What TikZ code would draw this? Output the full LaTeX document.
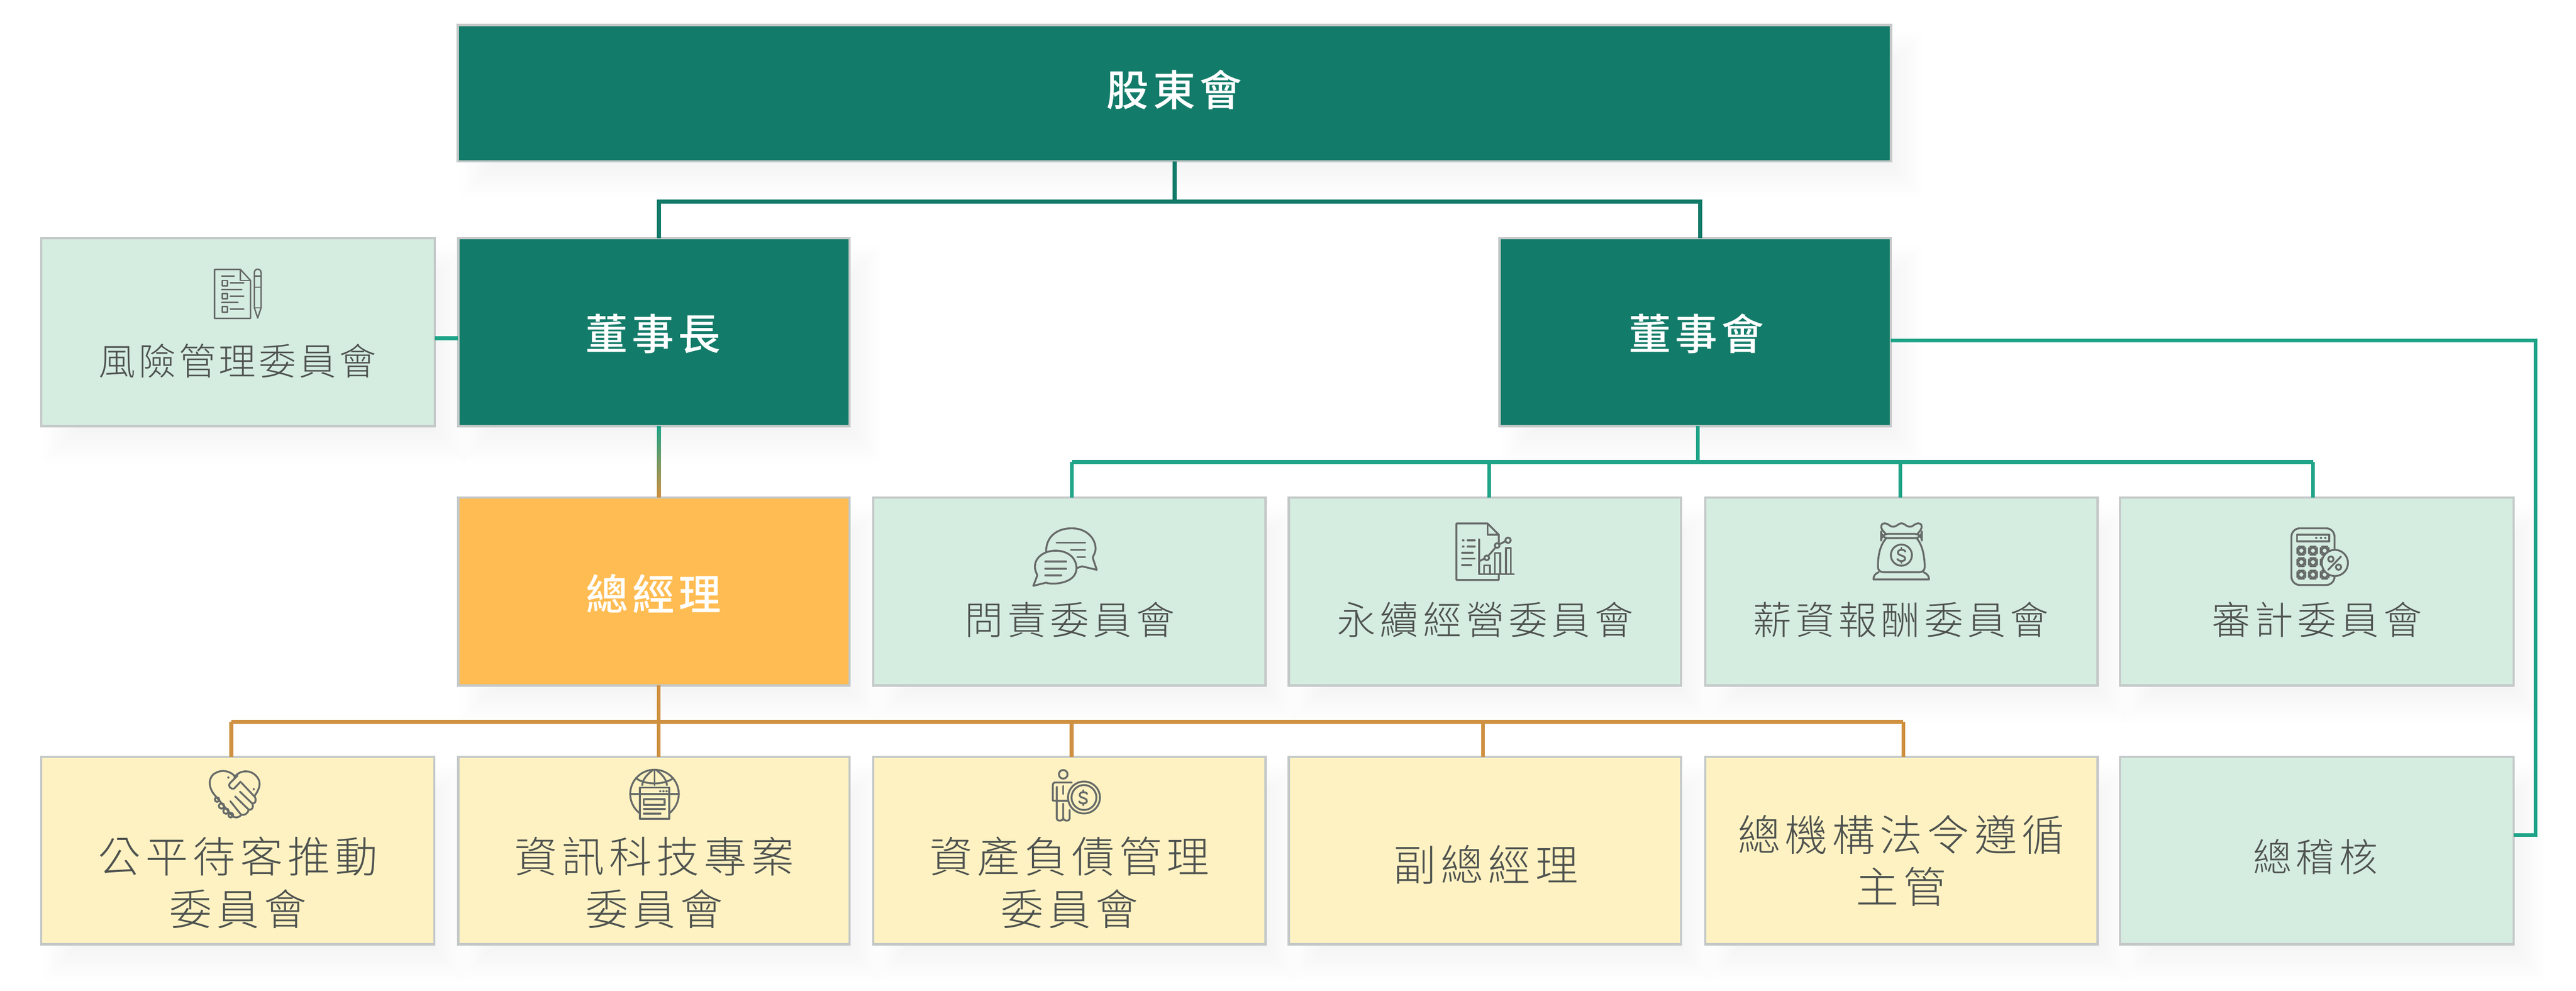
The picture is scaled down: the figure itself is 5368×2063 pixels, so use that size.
\documentclass[tikz,border=0pt]{standalone}
\usepackage{fontspec}
\usetikzlibrary{calc}
\newfontfamily\ftitle[LetterSpace=10]{Noto Sans CJK TC Medium}
\newfontfamily\fone[LetterSpace=11]{Noto Sans CJK TC Light}
\newfontfamily\ftwo[LetterSpace=11]{Noto Sans CJK TC Light}
\newfontfamily\frisk[LetterSpace=8]{Noto Sans CJK TC Light}
\definecolor{dgreen}{HTML}{137B69}
\definecolor{lgreen}{HTML}{D5ECE0}
\definecolor{lyellow}{HTML}{FFF2C2}
\definecolor{gmorange}{HTML}{FFBC52}
\definecolor{edgegray}{HTML}{C4C8C8}
\definecolor{teal}{HTML}{1FA488}
\definecolor{ochre}{HTML}{CF9040}
\definecolor{iconc}{HTML}{666A68}
\definecolor{textc}{HTML}{4E524F}
\tikzset{
  x=0.01cm,y=-0.01cm,
  boxbase/.style={draw=edgegray,line width=1.4pt,inner sep=0pt,outer sep=0pt},
  darkbox/.style={boxbase,fill=dgreen},
  lightbox/.style={boxbase,fill=lgreen},
  yellowbox/.style={boxbase,fill=lyellow},
  gmbox/.style={boxbase,fill=gmorange},
  titletext/.style={inner sep=0pt,text=white,font={\ftitle\fontsize{25.1}{25.1}\selectfont}},
  onetext/.style={inner sep=0pt,text=textc,font={\fone\fontsize{22.9}{22.9}\selectfont}},
  twotext/.style={inner sep=0pt,text=textc,align=center,font={\ftwo\fontsize{25.3}{31}\selectfont}},
  risktext/.style={inner sep=0pt,text=textc,font={\frisk\fontsize{22.0}{22.0}\selectfont}},
  topline/.style={draw=dgreen,line width=2.5pt},
  tealbus/.style={draw=teal,line width=2.5pt},
  tealdrop/.style={draw=teal,line width=2.2pt},
  ochrebus/.style={draw=ochre,line width=2.5pt},
  ochredrop/.style={draw=ochre,line width=2.2pt},
  icon/.style={draw=iconc,line width=1.1pt,line cap=round,line join=round},
  iconthin/.style={draw=iconc,line width=0.85pt,line cap=round,line join=round},
  zoomed/.style={x=0.003333cm,y=-0.003333cm},
}
\newcommand{\softbox}[4]{%
  \foreach \k in {0,...,13}{
    \fill[black,opacity=0.004] ({#1+35+60-\k*7},{#2+45+60-\k*7}) rectangle ({#3+35-60+\k*7},{#4+45-60+\k*7});
  }}
\newcommand{\sglyph}{%
  \draw[icon] (25,-22) .. controls (18,-38) and (-22,-38) .. (-22,-16) .. controls (-22,6) and (23,-1) .. (23,22) .. controls (23,42) and (-17,42) .. (-25,24);
  \draw[icon] (0,-46) -- (0,-36) (0,39) -- (0,49);}
\begin{document}
\begin{tikzpicture}
\useasboundingbox (0,0) rectangle (5368,2063);
\fill[white] (0,0) rectangle (5368,2063);
% soft shadows
\softbox{955}{53}{3940}{335}
\softbox{86}{496}{906}{887}
\softbox{955}{496}{1770}{887}
\softbox{3125}{496}{3940}{887}
\softbox{955}{1036}{1770}{1427}
\softbox{1820}{1036}{2637}{1427}
\softbox{2686}{1036}{3503}{1427}
\softbox{3554}{1036}{4371}{1427}
\softbox{4418}{1036}{5238}{1427}
\softbox{86}{1576}{905}{1966}
\softbox{955}{1576}{1770}{1966}
\softbox{1820}{1576}{2637}{1966}
\softbox{2686}{1576}{3503}{1966}
\softbox{3554}{1576}{4371}{1966}
\softbox{4418}{1576}{5238}{1966}
% boxes
\node[darkbox,minimum width=29.85cm,minimum height=2.84cm] (holders) at (2447.5,194) {};
\node[lightbox,minimum width=8.20cm,minimum height=3.91cm] (risk) at (496,691.5) {};
\node[darkbox,minimum width=8.15cm,minimum height=3.91cm] (chair) at (1362.5,691.5) {};
\node[darkbox,minimum width=8.15cm,minimum height=3.91cm] (board) at (3532.5,691.5) {};
\node[gmbox,minimum width=8.15cm,minimum height=3.91cm] (gm) at (1362.5,1231.5) {};
\node[lightbox,minimum width=8.17cm,minimum height=3.91cm] (acct) at (2228.5,1231.5) {};
\node[lightbox,minimum width=8.17cm,minimum height=3.91cm] (sust) at (3094.5,1231.5) {};
\node[lightbox,minimum width=8.17cm,minimum height=3.91cm] (comp) at (3962.5,1231.5) {};
\node[lightbox,minimum width=8.20cm,minimum height=3.91cm] (audit) at (4828,1231.5) {};
\node[yellowbox,minimum width=8.19cm,minimum height=3.90cm] (fair) at (495.5,1771) {};
\node[yellowbox,minimum width=8.15cm,minimum height=3.90cm] (itc) at (1362.5,1771) {};
\node[yellowbox,minimum width=8.17cm,minimum height=3.90cm] (alm) at (2228.5,1771) {};
\node[yellowbox,minimum width=8.17cm,minimum height=3.90cm] (vp) at (3094.5,1771) {};
\node[yellowbox,minimum width=8.17cm,minimum height=3.90cm] (law) at (3962.5,1771) {};
\node[lightbox,minimum width=8.20cm,minimum height=3.90cm] (ia) at (4828,1771) {};
% bus anchors
\coordinate (hubtop) at (2448,420);
\coordinate (xchair) at (1373,0);
\coordinate (xboard) at (3543,0);
\coordinate (hubboard) at (3538,962);
\coordinate (xa) at (2234,0);
\coordinate (xb) at (3103,0);
\coordinate (xc) at (3960,0);
\coordinate (xd) at (4820,0);
\coordinate (hubgm) at (1373,1503);
\coordinate (ya) at (482,0);
\coordinate (yc) at (2233,0);
\coordinate (yd) at (3090,0);
\coordinate (ye) at (3966,0);
\coordinate (xright) at (5284,0);
\coordinate (yright) at (0,709);
\coordinate (yia) at (0,1739);
% connectors
\draw[topline] (holders.south -| hubtop) -- (hubtop);
\draw[topline] (xchair |- chair.north) -- (xchair |- hubtop) -- (xboard |- hubtop) -- (xboard |- board.north);
\draw[tealbus] (risk.east) ++(0,13) -- (chair.west |- 0,704.5);
\draw[tealdrop] (board.south -| hubboard) -- (hubboard);
\draw[tealbus] (xa |- hubboard) -- (xd |- hubboard);
\foreach \c/\t in {xa/acct,xb/sust,xc/comp,xd/audit}{\draw[tealdrop] (\c |- hubboard) -- (\c |- \t.north);}
\draw[tealdrop] (board.east |- yright) -- (xright |- yright) -- (xright |- yia) -- (ia.east |- yia);
\shade[top color=teal,bottom color=ochre] ($(chair.south -| xchair)+(-4,0)$) rectangle ($(gm.north -| xchair)+(4,0)$);
\draw[ochredrop] (gm.south -| hubgm) -- (hubgm);
\draw[ochrebus] (ya |- hubgm) -- (ye |- hubgm);
\foreach \c/\t in {ya/fair,hubgm/itc,yc/alm,yd/vp,ye/law}{\draw[ochredrop] (\c |- hubgm) -- (\c |- \t.north);}
% titles
\node[titletext] (tholders) at (2447,187) {股東會};
\node[titletext] (tchair) at (1361,695) {董事長};
\node[titletext] (tboard) at (3535,695) {董事會};
\node[titletext] (tgm) at (1362,1236) {總經理};
% labels
\node[risktext] (trisk) at (495,751) {風險管理委員會};
\node[onetext] (tacct) at (2229,1290) {問責委員會};
\node[onetext] (tsust) at (3095,1290) {永續經營委員會};
\node[onetext] (tcomp) at (3961,1290) {薪資報酬委員會};
\node[onetext] (taudit) at (4828,1290) {審計委員會};
\node[twotext] (tfair) at (496,1838) {公平待客推動\\委員會};
\node[twotext] (titc) at (1363,1838) {資訊科技專案\\委員會};
\node[twotext] (talm) at (2229,1838) {資產負債管理\\委員會};
\node[twotext] (tvp) at (3096,1800) {副總經理};
\node[twotext] (tlaw) at (3962,1792) {總機構法令遵循\\主管};
\node[onetext] (tia) at (4825,1784) {總稽核};
% risk icon
\begin{scope}[iconthin]
\draw (501,561) -- (447,561) -- (447,663) -- (522,663) -- (522,584) -- cycle;
\draw (501,561) -- (501,584) -- (522,584);
\draw (462,575) -- (488,575) (480,589) -- (508,589) (462,603) -- (504,603) (480,617) -- (508,617) (462,630) -- (496,630) (480,644) -- (508,644);
\draw (463,584) rectangle (474,595) (463,611) rectangle (474,622) (463,638) rectangle (474,650);
\draw (530,568) .. controls (530,558) and (544,558) .. (544,568) -- (544,641) -- (537,662) -- (530,641) -- cycle;
\draw (530,575) -- (544,575) (530,598) -- (544,598) (530,641) -- (544,641);
\end{scope}
% accountability icon
\begin{scope}[shift={(2140,1090)},zoomed]
\draw[icon] (120,175) .. controls (120,80) and (190,30) .. (280,30) .. controls (370,30) and (430,90) .. (430,160) .. controls (430,180) and (415,200) .. (412,215) -- (437,290) -- (345,268) -- (310,280);
\draw[icon] (65,325) -- (40,390) -- (120,370) .. controls (150,385) and (310,380) .. (310,280) .. controls (310,210) and (250,170) .. (180,170) .. controls (110,170) and (50,210) .. (50,270) .. controls (50,295) and (60,310) .. (65,325);
\draw[icon] (185,120) -- (365,120) (275,165) -- (365,165) (315,210) -- (365,210) (115,238) -- (245,238) (115,282) -- (245,282) (115,325) -- (215,325);
\end{scope}
% sustainability icon
\begin{scope}[shift={(3020,1080)},zoomed]
\draw[icon] (310,150) -- (310,100) -- (240,30) -- (45,30) -- (45,383) -- (310,383) -- (310,350);
\draw[icon] (240,30) -- (240,100) -- (310,100);
\draw[icon] (187,130) -- (187,347) -- (405,347);
\draw[icon] (218,347) -- (218,292) -- (255,292) -- (255,347) (285,347) -- (285,215) -- (320,215) -- (320,347) (355,347) -- (355,183) -- (385,183) -- (385,347);
\draw[icon] (190,265) -- (220,250) (245,232) -- (290,180) (314,160) -- (350,142);
\draw[icon] (235,245) circle [radius=15] (300,168) circle [radius=15] (368,135) circle [radius=17];
\draw[icon] (85,135) -- (90,135) (115,135) -- (160,135) (85,175) -- (90,175) (115,175) -- (160,175) (80,213) -- (148,213) (80,250) -- (160,250) (80,290) -- (138,290);
\end{scope}
% compensation icon
\begin{scope}[shift={(3880,1080)},zoomed]
\draw[icon] (150,95) .. controls (130,75) and (115,60) .. (122,42) .. controls (130,22) and (155,28) .. (170,40) .. controls (190,58) and (210,50) .. (225,38) .. controls (240,26) and (255,26) .. (270,38) .. controls (285,50) and (305,58) .. (325,40) .. controls (340,28) and (365,22) .. (373,42) .. controls (378,60) and (365,75) .. (348,95);
\draw[icon,rounded corners=4pt] (120,95) rectangle (375,122);
\draw[icon] (150,125) .. controls (110,170) and (100,240) .. (100,300) .. controls (100,320) and (110,335) .. (140,335) -- (355,335) .. controls (385,335) and (395,320) .. (393,290) .. controls (390,230) and (380,170) .. (345,125);
\draw[icon] (105,335) .. controls (80,345) and (72,360) .. (72,380) -- (420,380) .. controls (420,360) and (410,345) .. (385,335);
\draw[icon] (247,228) circle [radius=66];
\begin{scope}[shift={(247,228)}] \sglyph \end{scope}
\end{scope}
% audit icon
\begin{scope}[shift={(4750,1085)},zoomed]
\draw[icon,rounded corners=5pt] (75,45) rectangle (345,400);
\draw[icon] (110,85) rectangle (312,127);
\fill[iconc] (230,105) circle [radius=7] (260,105) circle [radius=7] (287,105) circle [radius=7];
\foreach \kx in {112,185,258}{\foreach \ky in {160,232,310}{\draw[icon,rounded corners=4pt] (\kx,\ky) rectangle ({\kx+50},{\ky+50});}}
\draw[icon,fill=lgreen] (347,262) circle [radius=82];
\draw[icon] (305,305) -- (385,222);
\draw[icon] (322,238) circle [radius=17] (370,288) circle [radius=17];
\end{scope}
% handshake icon
\begin{scope}[shift={(420,1590)},zoomed]
\draw[icon] (85,200) .. controls (40,150) and (40,85) .. (85,60) .. controls (125,35) and (175,45) .. (205,75);
\draw[icon] (205,85) .. controls (240,40) and (300,35) .. (340,75) .. controls (375,110) and (370,150) .. (330,205);
\draw[icon] (245,112) -- (205,155) .. controls (185,165) and (160,140) .. (180,120) -- (225,75);
\draw[icon] (250,120) -- (335,210) .. controls (345,235) and (335,250) .. (318,250) -- (240,175);
\draw[icon] (318,250) .. controls (330,280) and (310,292) .. (295,288) -- (210,205);
\draw[icon] (295,288) .. controls (290,315) and (265,325) .. (248,320) -- (180,235);
\draw[icon] (248,320) .. controls (235,340) and (210,340) .. (195,330) -- (85,200);
\draw[icon] (97,225) circle [radius=14] (125,265) circle [radius=17] (153,297) circle [radius=17] (183,322) circle [radius=15];
\fill[iconc] (168,87) circle [radius=7] (327,160) circle [radius=7];
\end{scope}
% globe icon
\begin{scope}[shift={(1280,1590)},zoomed]
\draw[icon] (252,190) circle [radius=152];
\draw[icon] (252,40) -- (252,135);
\draw[icon] (240,42) .. controls (195,75) and (178,105) .. (175,135);
\draw[icon] (265,42) .. controls (310,75) and (327,105) .. (330,135);
\draw[icon] (135,90) .. controls (190,135) and (315,135) .. (370,90);
\draw[icon] (100,190) -- (150,190) (355,190) -- (405,190);
\draw[icon,fill=lyellow] (160,150) rectangle (345,345);
\draw[icon] (160,190) -- (345,190);
\fill[iconc] (288,173) circle [radius=7] (308,173) circle [radius=7] (328,173) circle [radius=7];
\draw[icon] (185,222) rectangle (315,258);
\draw[icon] (185,283) -- (318,283) (185,312) -- (290,312);
\end{scope}
% person and coin icon
\begin{scope}[shift={(2150,1590)},zoomed]
\draw[icon] (197,67) circle [radius=27];
\draw[icon] (250,118) -- (145,118) .. controls (135,118) and (132,125) .. (132,135) -- (132,232) -- (157,232);
\draw[icon] (157,145) -- (157,345) .. controls (157,362) and (197,362) .. (197,340) -- (197,250);
\draw[icon] (197,340) .. controls (197,362) and (237,362) .. (237,345) -- (237,290);
\draw[icon] (197,140) -- (197,190) (157,232) -- (225,232);
\draw[icon,fill=lyellow] (327,212) circle [radius=100];
\draw[icon] (327,212) circle [radius=78];
\begin{scope}[shift={(322,212)}] \sglyph \end{scope}
\end{scope}
\end{tikzpicture}
\end{document}
